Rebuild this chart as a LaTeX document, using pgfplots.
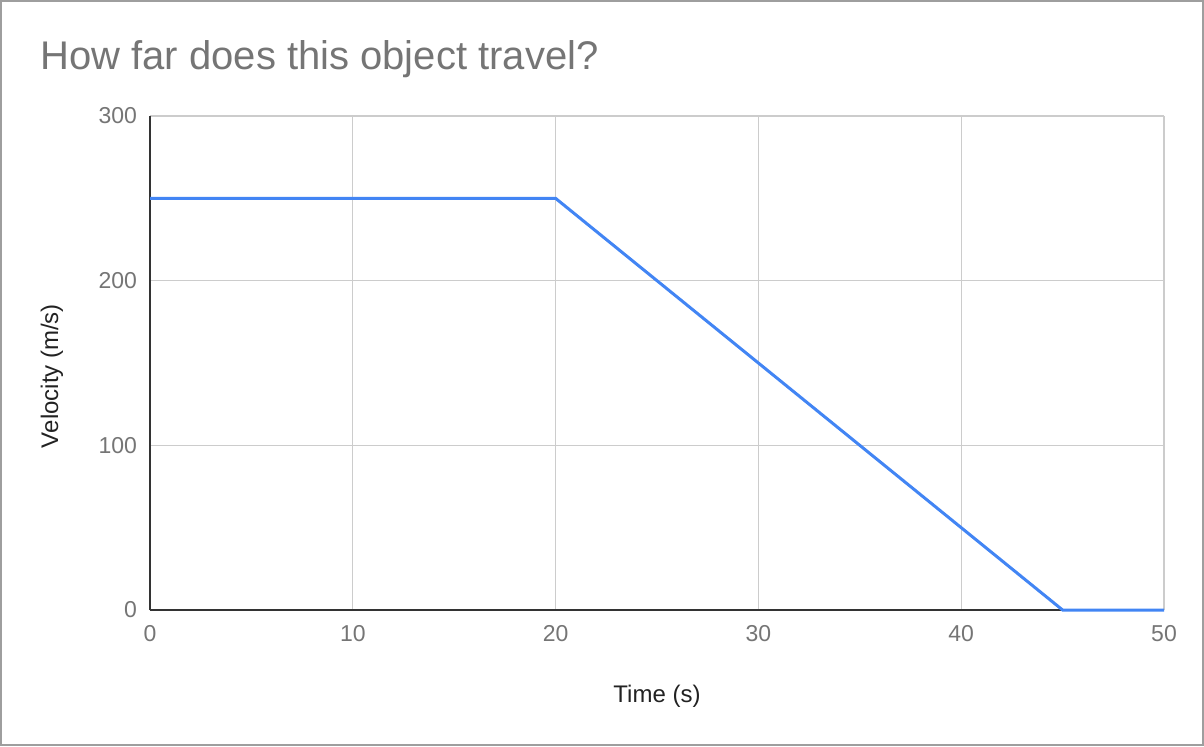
\documentclass[border=0pt]{standalone}
\usepackage{fontspec}
\setmainfont{Liberation Sans}
\usepackage{pgfplots}
\pgfplotsset{compat=1.18}
\definecolor{gtext}{HTML}{757575}
\definecolor{glabel}{HTML}{222222}
\definecolor{gaxis}{HTML}{333333}
\definecolor{ggrid}{HTML}{CCCCCC}
\definecolor{gline}{HTML}{4285F4}
\definecolor{gframe}{HTML}{9E9E9E}
\begin{document}
\begin{tikzpicture}[x=1pt,y=1pt]
\path[use as bounding box] (0,0) rectangle (602,373);
\draw[gframe,line width=1pt] (0.5,0.5) rectangle (601.5,372.5);
\node[anchor=base west,text=gtext,font=\fontsize{20}{22}\selectfont,inner sep=0] at (20,338) {How far does this object travel?};
\begin{axis}[
  at={(75pt,68pt)}, anchor=south west,
  scale only axis, width=507pt, height=247pt,
  xmin=0, xmax=50, ymin=0, ymax=300,
  xtick={0,10,20,30,40,50}, ytick={0,100,200,300},
  axis lines=left, axis line style={-,draw=gaxis,line width=1pt},
  grid=major, major grid style={ggrid,line width=0.6pt},
  major tick length=0pt,
  tick label style={text=gtext,font=\fontsize{11.5}{12}\selectfont},
  /pgf/number format/assume math mode=true,
  xticklabel style={yshift=-4pt},
  yticklabel style={xshift=-3pt},
  xlabel={Time (s)}, ylabel={Velocity (m/s)},
  label style={text=glabel,font=\fontsize{12}{13}\selectfont},
  xlabel style={at={(axis description cs:0.5,0)},anchor=base,yshift=-46pt},
  ylabel style={at={(axis description cs:0,0.5)},anchor=base,yshift=46pt,xshift=-6.5pt},
  clip=false,
]
\addplot[gline,line width=1.5pt,no markers] coordinates {(0,250) (20,250) (45,0) (50,0)};
\end{axis}
\end{tikzpicture}
\end{document}
